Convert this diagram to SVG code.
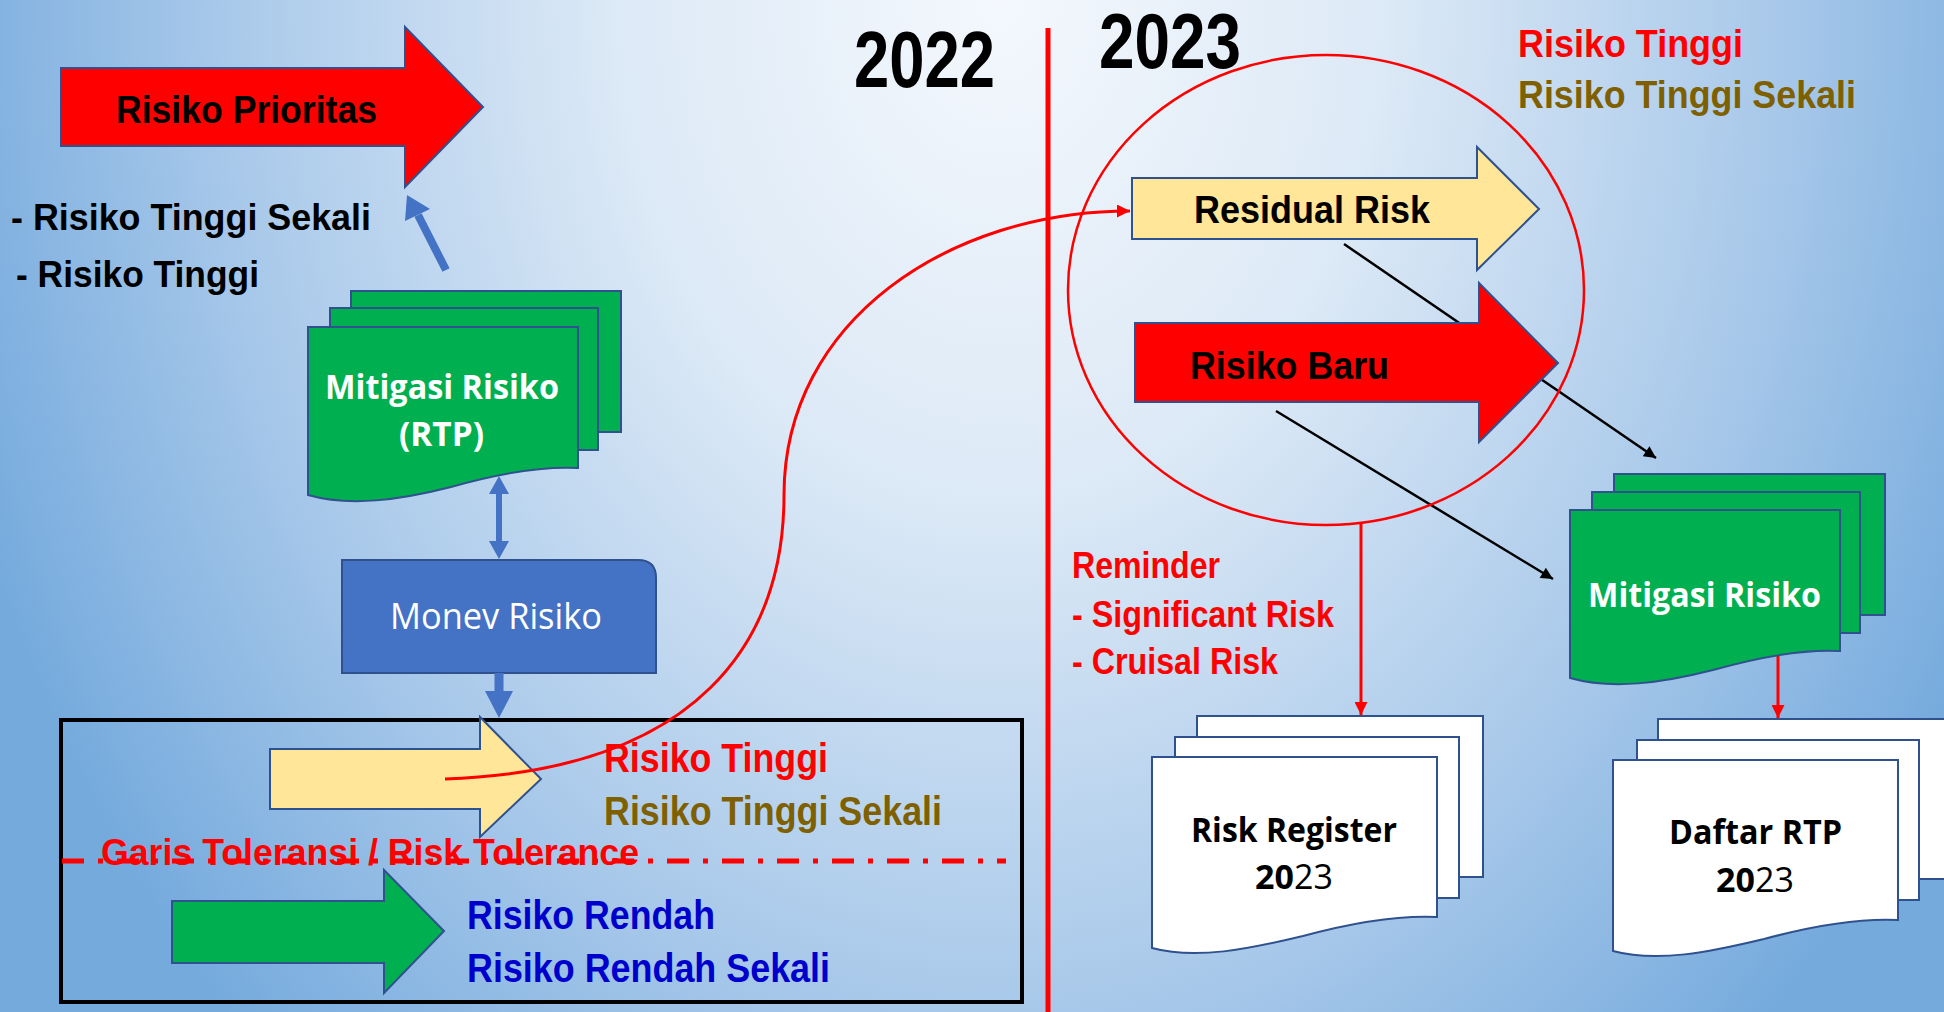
<svg xmlns="http://www.w3.org/2000/svg" width="1944" height="1012" viewBox="0 0 1944 1012">
<defs>
<radialGradient id="bg" gradientUnits="userSpaceOnUse" cx="1000" cy="0" r="1100" gradientTransform="translate(1000 0) scale(1 1.3) translate(-1000 0)">
<stop offset="0" stop-color="#f4f8fd"/>
<stop offset="0.35" stop-color="#dce9f6"/>
<stop offset="0.7" stop-color="#a9c9ea"/>
<stop offset="1" stop-color="#75aadd"/>
</radialGradient>
<marker id="ab" viewBox="0 0 10 10" refX="10" refY="5" markerWidth="15" markerHeight="12" markerUnits="userSpaceOnUse" orient="auto"><path d="M0,0 L10,5 L0,10 z" fill="#000"/></marker>
<marker id="ar" viewBox="0 0 10 10" refX="10" refY="5" markerWidth="15" markerHeight="13" markerUnits="userSpaceOnUse" orient="auto"><path d="M0,0 L10,5 L0,10 z" fill="#ff0000"/></marker>
</defs>
<style>
.nar{font-family:'Liberation Sans Narrow','Liberation Sans',Arial,sans-serif;font-weight:bold}
.cal{font-family:'Open Sans','Noto Sans',sans-serif}
.shp{stroke:#2f528f;stroke-width:2}
.grn{fill:#00b050}
.yel{fill:#ffe699}
.red{fill:#ff0000}
.wht{fill:#ffffff}
.blu{fill:#4472c4}
.tred{fill:#ff0000}
.tbrn{fill:#7f6000}
.tblu{fill:#0000cc}
.tblk{fill:#000000}
</style>
<rect x="0" y="0" width="1944" height="1012" fill="url(#bg)"/>
<line x1="1048" y1="28" x2="1048" y2="1012" stroke="#ff0000" stroke-width="5"/>

<g id="year-2022"><text class="nar tblk" x="854" y="87" font-size="80" textLength="141" lengthAdjust="spacingAndGlyphs">2022</text></g>
<g id="year-2023"><text class="nar tblk" x="1099" y="68" font-size="78" textLength="142" lengthAdjust="spacingAndGlyphs">2023</text></g>

<g id="risiko-prioritas">
<path class="shp red" d="M61,68 H405 V27 L483,107 L405,187 V146 H61 Z"/>
<text class="nar tblk" x="116" y="123" font-size="39" textLength="261" lengthAdjust="spacingAndGlyphs">Risiko Prioritas</text>
</g>
<g id="label-prioritas-list">
<text class="nar tblk" x="11" y="230" font-size="36" textLength="360" lengthAdjust="spacingAndGlyphs">- Risiko Tinggi Sekali</text>
<text class="nar tblk" x="16" y="287" font-size="36" textLength="243" lengthAdjust="spacingAndGlyphs">- Risiko Tinggi</text>
</g>

<g id="mitigasi-rtp">
<rect class="shp grn" x="351" y="291" width="270" height="141"/>
<rect class="shp grn" x="330" y="308" width="268" height="142"/>
<path class="shp grn" d="M308,327 H578 V468 C540,466 497,474 451,487 C400,500 350,507 308,495 Z"/>
<text class="cal wht" x="325" y="399" font-size="34" font-weight="bold" textLength="234" lengthAdjust="spacingAndGlyphs">Mitigasi Risiko</text>
<text class="cal wht" x="399" y="446" font-size="34" font-weight="bold" textLength="85" lengthAdjust="spacingAndGlyphs">(RTP)</text>
</g>

<g id="monev-risiko">
<path class="shp blu" d="M342,560 H638 Q656,560 656,578 V673 H342 Z"/>
<text class="cal wht" x="390" y="629" font-size="36" textLength="212" lengthAdjust="spacingAndGlyphs">Monev Risiko</text>
</g>

<g id="tolerance-box">
<rect x="61" y="720" width="961" height="282" fill="none" stroke="#000" stroke-width="4"/>
<line x1="62" y1="861" x2="1006" y2="861" stroke="#ff0000" stroke-width="5" stroke-dasharray="22 14 5 14"/>
<text class="nar tred" x="101" y="865" font-size="37" textLength="538" lengthAdjust="spacingAndGlyphs">Garis Toleransi / Risk Tolerance</text>
</g>

<g id="arrow-tinggi">
<path class="shp yel" d="M270,749 H480 V717 L541,779 L480,837 V809 H270 Z"/>
<text class="nar tred" x="604" y="772" font-size="40" textLength="224" lengthAdjust="spacingAndGlyphs">Risiko Tinggi</text>
<text class="nar tbrn" x="604" y="825" font-size="40" textLength="338" lengthAdjust="spacingAndGlyphs">Risiko Tinggi Sekali</text>
</g>

<g id="arrow-rendah">
<path class="shp grn" d="M172,901 H384 V870 L444,931 L384,993 V963 H172 Z"/>
<text class="nar tblu" x="467" y="929" font-size="40" textLength="248" lengthAdjust="spacingAndGlyphs">Risiko Rendah</text>
<text class="nar tblu" x="467" y="982" font-size="40" textLength="363" lengthAdjust="spacingAndGlyphs">Risiko Rendah Sekali</text>
</g>

<g id="connectors">
<line x1="446" y1="270" x2="418" y2="215" stroke="#4472c4" stroke-width="8"/>
<polygon class="blu" points="407,195 430,209 405,221"/>
<polygon class="blu" points="499,476 509,494 502,494 502,541 509,541 499,559 489,541 496,541 496,494 489,494"/>
<polygon class="blu" points="494.5,673 503.5,673 503.5,691 513,691 499,718 485,691 494.5,691"/>
<path d="M445,779 C700,770 784,640 784,495 C784,320 950,211 1130,211" fill="none" stroke="#ff0000" stroke-width="3" marker-end="url(#ar)"/>
<line x1="1344" y1="244" x2="1656" y2="458" stroke="#000" stroke-width="2.5" marker-end="url(#ab)"/>
<line x1="1276" y1="411" x2="1553" y2="579" stroke="#000" stroke-width="2.5" marker-end="url(#ab)"/>
<line x1="1361" y1="524" x2="1361" y2="715" stroke="#ff0000" stroke-width="3" marker-end="url(#ar)"/>
<line x1="1778" y1="648" x2="1778" y2="718" stroke="#ff0000" stroke-width="3" marker-end="url(#ar)"/>
</g>

<g id="residual-risk">
<path class="shp yel" d="M1132,178 H1477 V147 L1539,209 L1477,270 V239 H1132 Z"/>
<text class="nar tblk" x="1194" y="223" font-size="39" textLength="236" lengthAdjust="spacingAndGlyphs">Residual Risk</text>
</g>

<g id="risiko-baru">
<path class="shp red" d="M1135,323 H1479 V283 L1558,363 L1479,442 V402 H1135 Z"/>
<text class="nar tblk" x="1190" y="379" font-size="39" textLength="199" lengthAdjust="spacingAndGlyphs">Risiko Baru</text>
</g>

<g id="label-2023-list">
<text class="nar tred" x="1518" y="57" font-size="39" textLength="225" lengthAdjust="spacingAndGlyphs">Risiko Tinggi</text>
<text class="nar tbrn" x="1518" y="108" font-size="39" textLength="338" lengthAdjust="spacingAndGlyphs">Risiko Tinggi Sekali</text>
</g>

<g id="reminder">
<text class="nar tred" x="1072" y="578" font-size="36" textLength="148" lengthAdjust="spacingAndGlyphs">Reminder</text>
<text class="nar tred" x="1072" y="627" font-size="36" textLength="262" lengthAdjust="spacingAndGlyphs">- Significant Risk</text>
<text class="nar tred" x="1072" y="674" font-size="36" textLength="206" lengthAdjust="spacingAndGlyphs">- Cruisal Risk</text>
</g>

<g id="mitigasi-risiko-2023">
<rect class="shp grn" x="1614" y="474" width="271" height="141"/>
<rect class="shp grn" x="1592" y="492" width="268" height="141"/>
<path class="shp grn" d="M1570,510 H1840 V651 C1802,649 1759,657 1713,670 C1662,683 1612,690 1570,678 Z"/>
<text class="cal wht" x="1588" y="607" font-size="34" font-weight="bold" textLength="233" lengthAdjust="spacingAndGlyphs">Mitigasi Risiko</text>
</g>

<g id="risk-register-2023">
<rect class="shp wht" x="1197" y="716" width="286" height="161"/>
<rect class="shp wht" x="1175" y="737" width="284" height="161"/>
<path class="shp wht" d="M1152,757 H1437 V917 C1397,915 1351,923 1303,936 C1249,949 1196,960 1152,948 Z"/>
<text class="cal tblk" x="1191" y="842" font-size="34" font-weight="bold" textLength="206" lengthAdjust="spacingAndGlyphs">Risk Register</text>
<text class="cal tblk" x="1294" y="889" font-size="34" text-anchor="middle"><tspan font-weight="bold">20</tspan>23</text>
</g>

<g id="daftar-rtp-2023">
<rect class="shp wht" x="1658" y="719" width="300" height="160"/>
<rect class="shp wht" x="1637" y="740" width="282" height="160"/>
<path class="shp wht" d="M1613,760 H1898 V920 C1858,918 1812,926 1764,939 C1710,952 1657,963 1613,951 Z"/>
<text class="cal tblk" x="1669" y="844" font-size="34" font-weight="bold" textLength="173" lengthAdjust="spacingAndGlyphs">Daftar RTP</text>
<text class="cal tblk" x="1755" y="892" font-size="34" text-anchor="middle"><tspan font-weight="bold">20</tspan>23</text>
</g>

<g id="focus-ellipse">
<ellipse cx="1326" cy="290" rx="258" ry="235" fill="none" stroke="#ff0000" stroke-width="2.5"/>
</g>
</svg>
